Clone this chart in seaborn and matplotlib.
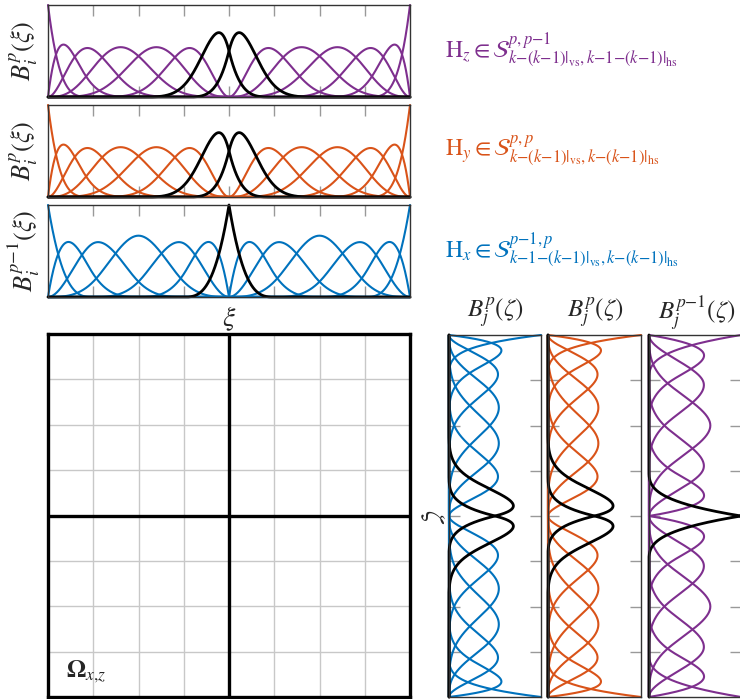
import matplotlib
matplotlib.use("Agg")
import matplotlib.pyplot as plt
import numpy as np
import pandas as pd
import seaborn as sns

# B-spline setup: degree p = 4, 8 elements, two patches of 4 elements
degree_p = 4
knots_p_c1 = [0, 0, 0, 0, 0, 1/8, 2/8, 3/8, 4/8, 4/8, 4/8, 5/8, 6/8, 7/8, 1, 1, 1, 1, 1]
knots_pm1_c0 = [0, 0, 0, 0, 1/8, 2/8, 3/8, 4/8, 4/8, 4/8, 5/8, 6/8, 7/8, 1, 1, 1, 1]
black_p = [6, 7]
black_pm1 = [6]
element_edges = [1/8, 2/8, 3/8, 4/8, 5/8, 6/8, 7/8]

PURPLE = "#7E2F8E"
ORANGE = "#D95319"
BLUE = "#0072BD"

space_labels = [
    r"$\mathrm{H}_z \in \mathcal{S}^{p,p{-}1}_{k{-}(k{-}1)|_{\mathrm{vs}},k{-}1{-}(k{-}1)|_{\mathrm{hs}}}$",
    r"$\mathrm{H}_y \in \mathcal{S}^{p,p}_{k{-}(k{-}1)|_{\mathrm{vs}},k{-}(k{-}1)|_{\mathrm{hs}}}$",
    r"$\mathrm{H}_x \in \mathcal{S}^{p{-}1,p}_{k{-}1{-}(k{-}1)|_{\mathrm{vs}},k{-}(k{-}1)|_{\mathrm{hs}}}$",
]
xi_labels = [r"$B_i^p(\xi)$", r"$B_i^p(\xi)$", r"$B_i^{p{-}1}(\xi)$"]
zeta_titles = [r"$B_j^p(\zeta)$", r"$B_j^p(\zeta)$", r"$B_j^{p{-}1}(\zeta)$"]


def bspline_basis(knots, degree, x):
    knots = np.asarray(knots, float)
    n_int = len(knots) - 1
    B = np.zeros((len(x), n_int))
    for i in range(n_int):
        if knots[i] < knots[i + 1]:
            B[:, i] = (x >= knots[i]) & (x < knots[i + 1])
    last = np.nonzero(knots[:-1] < knots[1:])[0].max()
    B[x == knots[-1], last] = 1.0
    for d in range(1, degree + 1):
        Bn = np.zeros((len(x), n_int - d))
        for i in range(n_int - d):
            left = knots[i + d] - knots[i]
            right = knots[i + d + 1] - knots[i + 1]
            term = np.zeros(len(x))
            if left > 0:
                term += (x - knots[i]) / left * B[:, i]
            if right > 0:
                term += (knots[i + d + 1] - x) / right * B[:, i + 1]
            Bn[:, i] = term
        B = Bn
    return B


def basis_frame(knots, degree, black):
    t = np.linspace(0, 1, 801)
    B = bspline_basis(knots, degree, t)
    rows = []
    for j in range(B.shape[1]):
        rows.append(pd.DataFrame({"t": t, "val": B[:, j], "idx": j, "black": j in black}))
    return pd.concat(rows, ignore_index=True)


df_p = basis_frame(knots_p_c1, degree_p, black_p)
df_pm1 = basis_frame(knots_pm1_c0, degree_p - 1, black_pm1)

sns.set_style("white")
plt.rcParams["mathtext.fontset"] = "stix"
plt.rcParams["font.family"] = ["STIXGeneral", "Liberation Serif", "DejaVu Serif"]

W, H = 740, 699
fig = plt.figure(figsize=(W / 100, H / 100), dpi=100)


def rect(l, t, r, b):
    return [l / W, 1 - b / H, (r - l) / W, (b - t) / H]


def style_spines(ax, color="#333333", lw=1.0):
    for s in ax.spines.values():
        s.set_color(color)
        s.set_linewidth(lw)


# top row: basis in xi
top_panels = [
    (rect(48, 5, 410, 97), df_p, PURPLE),
    (rect(48, 105, 410, 197), df_p, ORANGE),
    (rect(48, 205, 410, 297), df_pm1, BLUE),
]
label_y = [51, 151, 251]
for k, (r, df, col) in enumerate(top_panels):
    ax = fig.add_axes(r)
    sns.lineplot(data=df[~df["black"]], x="t", y="val", units="idx", estimator=None,
                 sort=False, color=col, lw=1.5, ax=ax)
    sns.lineplot(data=df[df["black"]], x="t", y="val", units="idx", estimator=None,
                 sort=False, color="black", lw=2.0, ax=ax)
    for ln in ax.lines:
        ln.set_clip_on(False)
    ax.set_xlim(0, 1)
    ax.set_ylim(0, 1)
    ax.set_xticks(element_edges)
    ax.set_yticks([])
    ax.tick_params(axis="x", direction="in", top=True, bottom=True, length=8,
                   width=1, color="#999999", labelbottom=False)
    ax.set_xlabel("")
    ax.set_ylabel("")
    style_spines(ax)
    fig.text(24 / W, 1 - label_y[k] / H, xi_labels[k], rotation=90, ha="center",
             va="center", fontsize=19)
    fig.text(445 / W, 1 - label_y[k] / H, space_labels[k], ha="left", va="center",
             fontsize=17, color=col)

fig.text(229 / W, 1 - 319 / H, r"$\xi$", ha="center", va="center", fontsize=20)

# physical domain
ax = fig.add_axes(rect(48, 334, 410, 697))
ax.set_xlim(0, 1)
ax.set_ylim(0, 1)
ax.set_xticks(element_edges)
ax.set_yticks(element_edges)
ax.tick_params(length=0, labelbottom=False, labelleft=False)
ax.grid(True, color="#c8c8c8", lw=1.0)
ax.axvline(0.5, color="black", lw=2.4)
ax.axhline(0.5, color="black", lw=2.4)
style_spines(ax, "black", 2.4)
ax.text(0.05, 0.055, r"$\mathbf{\Omega}_{x{,}z}$", transform=ax.transAxes, fontsize=18,
        ha="left", va="baseline")

fig.text(432 / W, 1 - 517 / H, r"$\zeta$", rotation=-90, ha="center", va="center",
         fontsize=20)

# right column: basis in zeta
right_panels = [
    (rect(449, 335, 541, 697), df_p, BLUE, 495),
    (rect(548, 335, 641, 697), df_p, ORANGE, 595),
    (rect(649, 335, 741, 697), df_pm1, PURPLE, 697),
]
for k, (r, df, col, cx) in enumerate(right_panels):
    ax = fig.add_axes(r)
    sns.lineplot(data=df[~df["black"]], x="val", y="t", units="idx", estimator=None,
                 sort=False, color=col, lw=1.5, ax=ax)
    sns.lineplot(data=df[df["black"]], x="val", y="t", units="idx", estimator=None,
                 sort=False, color="black", lw=2.0, ax=ax)
    for ln in ax.lines:
        ln.set_clip_on(False)
    ax.set_xlim(0, 1)
    ax.set_ylim(0, 1)
    ax.set_yticks(element_edges)
    ax.set_xticks([])
    ax.tick_params(axis="y", direction="in", left=True, right=True, length=8,
                   width=1, color="#999999", labelleft=False)
    ax.set_xlabel("")
    ax.set_ylabel("")
    style_spines(ax)
    fig.text(cx / W, 1 - 313 / H, zeta_titles[k], ha="center", va="center", fontsize=18)

fig.save_fig = None
fig.savefig("out.png", dpi=100)
